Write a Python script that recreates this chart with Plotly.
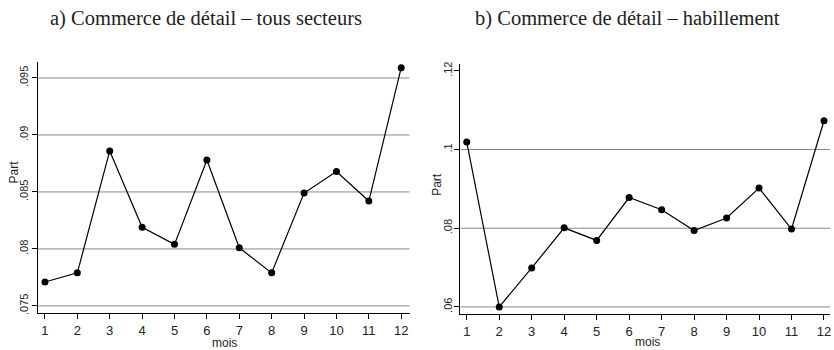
import plotly.graph_objects as go

# Monthly share of annual retail sales
mois = list(range(1, 13))
part_tous = [0.0771, 0.0779, 0.0886, 0.0819, 0.0804, 0.0878,
             0.0801, 0.0779, 0.0849, 0.0868, 0.0842, 0.0959]
part_hab = [0.1019, 0.0600, 0.0699, 0.0801, 0.0769, 0.0878,
            0.0847, 0.0794, 0.0826, 0.0902, 0.0798, 0.1073]

ticks_a = [0.075, 0.08, 0.085, 0.09, 0.095]
labels_a = [".075", ".08", ".085", ".09", ".095"]
grid_a = [0.075, 0.08, 0.085, 0.09, 0.095]

ticks_b = [0.06, 0.08, 0.10, 0.12]
labels_b = [".06", ".08", ".1", ".12"]
grid_b = [0.06, 0.08, 0.10]

titles = ["a) Commerce de détail – tous secteurs",
          "b) Commerce de détail – habillement"]

W, H = 834, 350
SANS = "Liberation Sans, Arial, sans-serif"
SERIF = "Liberation Serif, Times New Roman, serif"

fig = go.Figure()

line_style = dict(color="black", width=1.2)
marker_style = dict(color="black", size=7)

fig.add_trace(go.Scatter(x=mois, y=part_tous, mode="lines+markers",
                         line=line_style, marker=marker_style,
                         xaxis="x", yaxis="y", showlegend=False))
fig.add_trace(go.Scatter(x=mois, y=part_hab, mode="lines+markers",
                         line=line_style, marker=marker_style,
                         xaxis="x2", yaxis="y2", showlegend=False))

axis_common = dict(showline=True, linecolor="black", linewidth=1,
                   ticks="outside", ticklen=5, tickwidth=1, tickcolor="black",
                   showgrid=False, zeroline=False)
xfont = dict(family=SANS, size=13, color="#222")
yfont = dict(family=SANS, size=11, color="#222")

# pixel geometry of the two plot areas
left_px = dict(x0=38, x1=410, top=60, bottom=314)
right_px = dict(x0=461, x1=831, top=62, bottom=315)


def dom(p):
    return ([p["x0"] / W, p["x1"] / W],
            [(H - p["bottom"]) / H, (H - p["top"]) / H])


xd1, yd1 = dom(left_px)
xd2, yd2 = dom(right_px)

fig.update_layout(
    width=W, height=H,
    margin=dict(l=0, r=0, t=0, b=0),
    paper_bgcolor="white", plot_bgcolor="white",
    xaxis=dict(domain=xd1, range=[0.784, 12.256], tickvals=mois,
               anchor="y", tickfont=xfont, ticklabelstandoff=1, **axis_common),
    yaxis=dict(domain=yd1, range=[0.07442, 0.09639], tickvals=ticks_a,
               ticktext=labels_a, tickangle=-90, anchor="x",
               tickfont=yfont, ticklabelstandoff=0, **axis_common),
    xaxis2=dict(domain=xd2, range=[0.806, 12.185], tickvals=mois,
                anchor="y2", tickfont=xfont, ticklabelstandoff=1, **axis_common),
    yaxis2=dict(domain=yd2, range=[0.05833, 0.1217], tickvals=ticks_b,
                ticktext=labels_b, tickangle=-90, anchor="x2",
                tickfont=yfont, ticklabelstandoff=-2, **axis_common),
)

# horizontal grid lines
for v in grid_a:
    fig.add_shape(type="line", xref="x domain", yref="y", x0=0, x1=1,
                  y0=v, y1=v, line=dict(color="#8a8a8a", width=1), layer="below")
for v in grid_b:
    fig.add_shape(type="line", xref="x2 domain", yref="y2", x0=0, x1=1,
                  y0=v, y1=v, line=dict(color="#8a8a8a", width=1), layer="below")

# panel titles
for cx, t in zip([206, 628], titles):
    fig.add_annotation(text=t, x=cx / W, y=1 - 16 / H, xref="paper", yref="paper",
                       showarrow=False, xanchor="center", yanchor="middle",
                       font=dict(family=SERIF, size=20.5, color="#222"))

# axis titles
for cx, cy in [(14, 171), (438, 184)]:
    fig.add_annotation(text="Part", x=cx / W, y=1 - cy / H, xref="paper", yref="paper",
                       showarrow=False, textangle=-90, xanchor="center", yanchor="middle",
                       font=dict(family=SANS, size=12, color="#222"))
for cx, cy in [(225, 345), (648, 344)]:
    fig.add_annotation(text="mois", x=cx / W, y=1 - cy / H, xref="paper", yref="paper",
                       showarrow=False, xanchor="center", yanchor="middle",
                       font=dict(family=SANS, size=12, color="#222"))

fig.write_html("out.html")
